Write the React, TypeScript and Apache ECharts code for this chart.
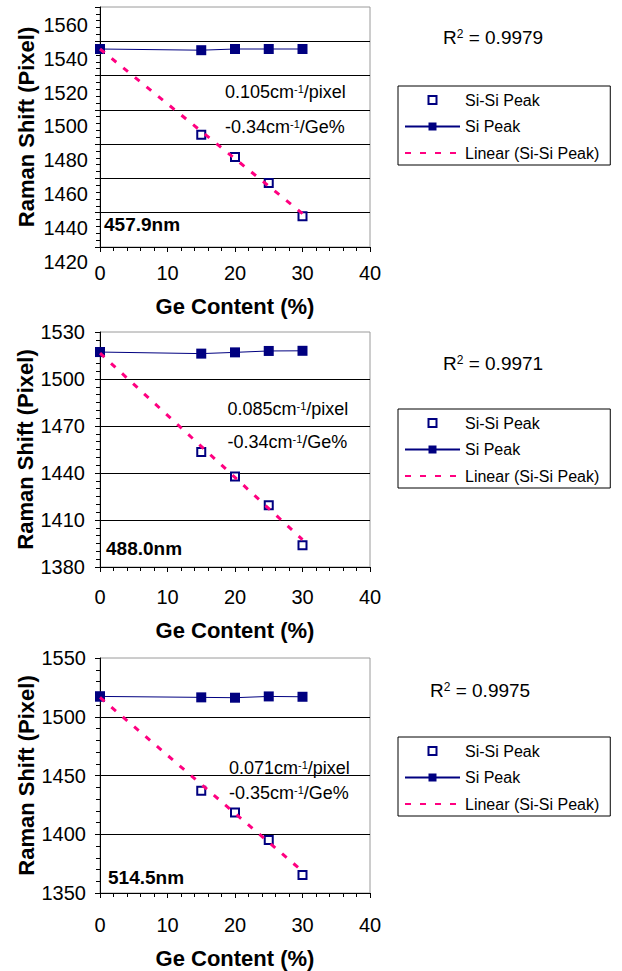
import React, { useEffect, useRef } from "react";
import * as echarts from "echarts";

// ---- data ----
const geContent = [0, 15, 20, 25, 30];
const trendX = [0, 30];

const siSiPeak1 = [1545.5, 1495.5, 1482.5, 1467.3, 1448.0];
const siPeak1 = [1545.5, 1544.8, 1545.5, 1545.5, 1545.5];
const trend1 = [1545.5, 1449.5];

const siSiPeak2 = [1517.2, 1453.4, 1437.7, 1419.4, 1393.9];
const siPeak2 = [1517.2, 1516.2, 1517.0, 1517.9, 1518.0];
const trend2 = [1516.5, 1397.5];

const siSiPeak3 = [1517.3, 1437.0, 1418.6, 1395.1, 1365.4];
const siPeak3 = [1517.3, 1516.5, 1516.2, 1517.3, 1517.0];
const trend3 = [1516.5, 1368.5];

const lasers = ["457.9nm", "488.0nm", "514.5nm"];
const r2Values = ["0.9979", "0.9971", "0.9975"];
const pixelCal = ["0.105", "0.085", "0.071"];
const geSlopes = ["-0.34", "-0.34", "-0.35"];

// y axis ticks
const yMins = [1430, 1380, 1350];
const yMaxs = [1570, 1530, 1550];
const ySteps = [20, 30, 50];
const yMinorSplits = [5, 6, 5];
// panel 1 tick labels (printed scale)
const labelAxis1 = { min: 1420, max: 1560, step: 20 };
// x axis ticks
const xTick = { min: 0, max: 40, step: 10 };

const seriesNames = ["Si-Si Peak", "Si Peak", "Linear (Si-Si Peak)"];
const xTitle = "Ge Content (%)";
const yTitle = "Raman Shift (Pixel)";

// ---- layout / style ----
const FONT = "'Liberation Sans', Arial, Helvetica, sans-serif";
const NAVY = "#000080";
const PINK = "#ff0080";
const GRID_LEFT = 100;
const GRID_RIGHT = 252;
const gridTops = [7, 332, 658];
const gridHeights = [240, 235, 235];
const xLabelMargins = [16, 20, 22];
const xNameGaps = [48, 52, 54];
const yLabelMargins = [12, 15, 14];
const annX = [225, 227.5, 229];
const annY1 = [92, 409, 768];
const annY2 = [127, 442, 793];
const laserPos = [
  [104, 224],
  [106, 548],
  [108, 877],
];
const r2Pos = [
  [443, 37],
  [443, 363],
  [430, 690],
];
const legendTops = [86, 409, 737];

const plainNum = (v: number) => String(v);

export default function App() {
  const ref = useRef<HTMLDivElement>(null);

  useEffect(() => {
    document.body.style.margin = "0";
    if (!ref.current) return;
    const chart = echarts.init(ref.current, null, { renderer: "svg" });

    const siSi = [siSiPeak1, siSiPeak2, siSiPeak3];
    const si = [siPeak1, siPeak2, siPeak3];
    const tr = [trend1, trend2, trend3];

    const grids: any[] = [];
    const xAxes: any[] = [];
    const yAxes: any[] = [];
    const series: any[] = [];
    const legends: any[] = [];
    const graphics: any[] = [];

    const axisLineStyle = { color: "#000", width: 1 };

    for (let i = 0; i < 3; i++) {
      grids.push({
        left: GRID_LEFT,
        right: GRID_RIGHT,
        top: gridTops[i],
        height: gridHeights[i],
        show: true,
        borderColor: "#9a9a9a",
        borderWidth: 1,
        backgroundColor: "transparent",
      });
      xAxes.push({
        gridIndex: i,
        type: "value",
        min: xTick.min,
        max: xTick.max,
        interval: xTick.step,
        axisLine: { show: true, onZero: false, lineStyle: axisLineStyle },
        axisTick: { show: true, length: 5, lineStyle: axisLineStyle },
        minorTick: { show: true, splitNumber: 5, length: 4, lineStyle: axisLineStyle },
        splitLine: { show: false },
        axisLabel: {
          fontSize: 20,
          color: "#000",
          fontFamily: FONT,
          margin: xLabelMargins[i],
          formatter: plainNum,
        },
        name: xTitle,
        nameLocation: "middle",
        nameGap: xNameGaps[i],
        nameTextStyle: {
          fontSize: 22,
          fontWeight: "bold",
          color: "#000",
          fontFamily: FONT,
        },
      });
      yAxes.push({
        gridIndex: i,
        type: "value",
        min: yMins[i],
        max: yMaxs[i],
        interval: ySteps[i],
        axisLine: { show: true, onZero: false, lineStyle: axisLineStyle },
        axisTick: { show: true, length: 5, lineStyle: axisLineStyle },
        minorTick: {
          show: true,
          splitNumber: yMinorSplits[i],
          length: 4,
          lineStyle: axisLineStyle,
        },
        splitLine: {
          show: true,
          showMaxLine: false,
          showMinLine: false,
          lineStyle: { color: "#000", width: 1 },
        },
        axisLabel: {
          show: i !== 0,
          fontSize: 20,
          color: "#000",
          fontFamily: FONT,
          margin: yLabelMargins[i],
          formatter: plainNum,
        },
        name: yTitle,
        nameLocation: "middle",
        nameGap: 63,
        nameTextStyle: {
          fontSize: 22,
          fontWeight: "bold",
          color: "#000",
          fontFamily: FONT,
        },
      });

      series.push({
        type: "line",
        name: seriesNames[0],
        xAxisIndex: i,
        yAxisIndex: i,
        data: geContent.map((x, k) => [x, siSi[i][k]]),
        symbol: "emptyRect",
        symbolSize: 8,
        showSymbol: true,
        itemStyle: { color: NAVY, borderWidth: 1.5 },
        lineStyle: { opacity: 0, width: 0 },
        z: 3,
      });
      series.push({
        type: "line",
        name: seriesNames[1],
        xAxisIndex: i,
        yAxisIndex: i,
        data: geContent.map((x, k) => [x, si[i][k]]),
        symbol: "rect",
        symbolSize: 10,
        showSymbol: true,
        itemStyle: { color: NAVY },
        lineStyle: { color: NAVY, width: 1 },
        z: 3,
      });
      series.push({
        type: "line",
        name: seriesNames[2],
        xAxisIndex: i,
        yAxisIndex: i,
        data: trendX.map((x, k) => [x, tr[i][k]]),
        symbol: "none",
        itemStyle: { color: PINK },
        lineStyle: { color: PINK, width: 3, type: [6, 9] },
        z: 4,
      });

      legends.push({
        data: [
          { name: seriesNames[0] },
          { name: seriesNames[1] },
          { name: seriesNames[2], itemStyle: { opacity: 0 } },
        ],
        orient: "vertical",
        left: 398,
        top: legendTops[i],
        itemWidth: 55,
        itemHeight: 10,
        itemGap: 8.5,
        padding: [5, 11, 3, 6],
        borderColor: "#000",
        borderWidth: 1,
        backgroundColor: "#fff",
        selectedMode: false,
        textStyle: {
          fontSize: 16,
          color: "#000",
          fontFamily: FONT,
          lineHeight: 18,
        },
      });

      const supRich = {
        s: { fontSize: 11, fontFamily: FONT, fill: "#000", verticalAlign: "top" },
      };
      graphics.push({
        type: "text",
        x: annX[i],
        y: annY1[i],
        style: {
          text: `${pixelCal[i]}cm{s|-1}/pixel`,
          fontSize: 18,
          fontFamily: FONT,
          fill: "#000",
          verticalAlign: "middle",
          rich: supRich,
        },
        z: 10,
      });
      graphics.push({
        type: "text",
        x: annX[i],
        y: annY2[i],
        style: {
          text: `${geSlopes[i]}cm{s|-1}/Ge%`,
          fontSize: 18,
          fontFamily: FONT,
          fill: "#000",
          verticalAlign: "middle",
          rich: supRich,
        },
        z: 10,
      });
      graphics.push({
        type: "text",
        x: laserPos[i][0],
        y: laserPos[i][1],
        style: {
          text: lasers[i],
          fontSize: 19,
          fontWeight: "bold",
          fontFamily: FONT,
          fill: "#000",
          verticalAlign: "middle",
        },
        z: 10,
      });
      graphics.push({
        type: "text",
        x: r2Pos[i][0],
        y: r2Pos[i][1],
        style: {
          text: `R{s|2} = ${r2Values[i]}`,
          fontSize: 19,
          fontFamily: FONT,
          fill: "#000",
          verticalAlign: "middle",
          rich: { s: { fontSize: 12, fontFamily: FONT, fill: "#000", verticalAlign: "top" } },
        },
        z: 10,
      });
    }

    // printed tick-label scale of panel 1 (offset from its grid lines in the reference)
    grids.push({ left: GRID_LEFT, right: GRID_RIGHT, top: 25, height: 236.7, show: false });
    xAxes.push({ gridIndex: 3, type: "value", min: 0, max: 40, show: false });
    yAxes.push({
      gridIndex: 3,
      type: "value",
      min: labelAxis1.min,
      max: labelAxis1.max,
      interval: labelAxis1.step,
      axisLine: { show: false },
      axisTick: { show: false },
      splitLine: { show: false },
      axisLabel: {
        fontSize: 20,
        color: "#000",
        fontFamily: FONT,
        margin: 12,
        formatter: plainNum,
      },
    });

    chart.setOption({
      animation: false,
      textStyle: { fontFamily: FONT },
      grid: grids,
      xAxis: xAxes,
      yAxis: yAxes,
      series,
      legend: legends,
      graphic: graphics,
    });

    return () => chart.dispose();
  }, []);

  return <div ref={ref} style={{ width: 622, height: 971 }} />;
}
